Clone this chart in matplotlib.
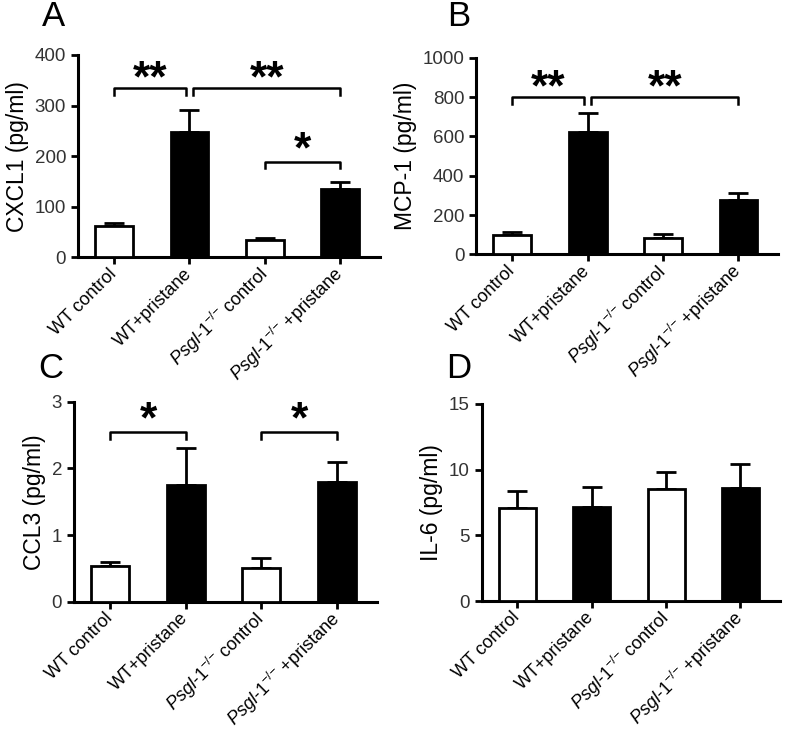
"""Four-panel cytokine bar chart (mean + SEM) with significance brackets."""

import matplotlib

matplotlib.use("Agg")
import matplotlib.pyplot as plt

plt.rcParams["font.family"] = ["Liberation Sans", "DejaVu Sans"]
plt.rcParams["mathtext.fontset"] = "custom"
plt.rcParams["mathtext.rm"] = "Liberation Sans"
plt.rcParams["mathtext.it"] = "Liberation Sans:italic"

GROUPS = [
    "WT control",
    "WT+pristane",
    r"$\it{Psgl}$-$\it{1}^{{-}/{-}}$ control",
    r"$\it{Psgl}$-$\it{1}^{{-}/{-}}$ +pristane",
]
FILLS = ["white", "black", "white", "black"]

CXCL1_MEAN = [61, 248, 34, 135]
CXCL1_ERR = [6, 44, 5, 13]
MCP1_MEAN = [100, 624, 85, 275]
MCP1_ERR = [14, 94, 20, 38]
CCL3_MEAN = [0.53, 1.75, 0.51, 1.80]
CCL3_ERR = [0.07, 0.56, 0.15, 0.29]
IL6_MEAN = [7.05, 7.17, 8.52, 8.57]
IL6_ERR = [1.35, 1.48, 1.32, 1.83]

# (left bar, right bar, bracket height, drop, label, star centre height)
CXCL1_SIG = [(0, 0.95, 334, 13, "**", 366), (1.05, 3, 334, 13, "**", 366),
             (2, 3, 189, 13, "*", 226)]
MCP1_SIG = [(0, 0.95, 800, 35, "**", 881), (1.05, 3, 800, 35, "**", 881)]
CCL3_SIG = [(0, 1, 2.55, 0.11, "*", 2.83), (2, 3, 2.55, 0.11, "*", 2.83)]

PANELS = [
    ("A", "CXCL1 (pg/ml)", CXCL1_MEAN, CXCL1_ERR, 400, [0, 100, 200, 300, 400],
     CXCL1_SIG, [0.099, 0.649, 0.384, 0.276], (0.068, 0.977)),
    ("B", "MCP-1 (pg/ml)", MCP1_MEAN, MCP1_ERR, 1000,
     [0, 200, 400, 600, 800, 1000], MCP1_SIG,
     [0.605, 0.653, 0.384, 0.268], (0.583, 0.977)),
    ("C", "CCL3 (pg/ml)", CCL3_MEAN, CCL3_ERR, 3, [0, 1, 2, 3], CCL3_SIG,
     [0.094, 0.179, 0.385, 0.273], (0.065, 0.497)),
    ("D", "IL-6 (pg/ml)", IL6_MEAN, IL6_ERR, 15, [0, 5, 10, 15], [],
     [0.612, 0.180, 0.379, 0.269], (0.583, 0.497)),
]

STAR_SIZE = 32

fig = plt.figure(figsize=(7.87, 7.33), dpi=100)

for letter, ylabel, mean, err, ymax, yticks, sigs, rect, lpos in PANELS:
    ax = fig.add_axes(rect)
    x = range(len(GROUPS))
    ax.bar(x, mean, width=0.5, color=FILLS, edgecolor="black",
           linewidth=2.0, zorder=3)
    for xi, m, e in zip(x, mean, err):
        ax.errorbar(xi, m, yerr=[[0], [e]], color="black", capsize=7,
                    elinewidth=2.0, capthick=2.0, zorder=2)
    for x0, x1, h, drop, label, ly in sigs:
        ax.plot([x0, x0, x1, x1], [h - drop, h, h, h - drop],
                color="black", linewidth=1.8, clip_on=False)
        # the star glyph sits high in its box, so anchor on the baseline
        ax.annotate(label, ((x0 + x1) / 2, ly),
                    xytext=(0, -0.43 * STAR_SIZE), textcoords="offset points",
                    ha="center", va="baseline", fontsize=STAR_SIZE,
                    fontweight="bold", annotation_clip=False)
    ax.set_xlim(-0.48, 3.53)
    ax.set_ylim(0, ymax)
    ax.set_yticks(yticks)
    ax.set_xticks(list(x))
    ax.set_xticklabels(GROUPS, rotation=45, ha="right", va="center",
                       rotation_mode="anchor", fontsize=13)
    ax.set_ylabel(ylabel, fontsize=16.5, labelpad=4)
    ax.tick_params(axis="both", direction="out", length=5, width=2.0,
                   labelsize=13.5, labelcolor="#333333")
    ax.tick_params(axis="x", labelcolor="black", labelsize=13, pad=5)
    for side in ("top", "right"):
        ax.spines[side].set_visible(False)
    for side in ("left", "bottom"):
        ax.spines[side].set_linewidth(2.2)
    fig.text(lpos[0], lpos[1], letter, fontsize=25, ha="center", va="center")

fig.savefig("out.png", dpi=100)
plt.close(fig)
